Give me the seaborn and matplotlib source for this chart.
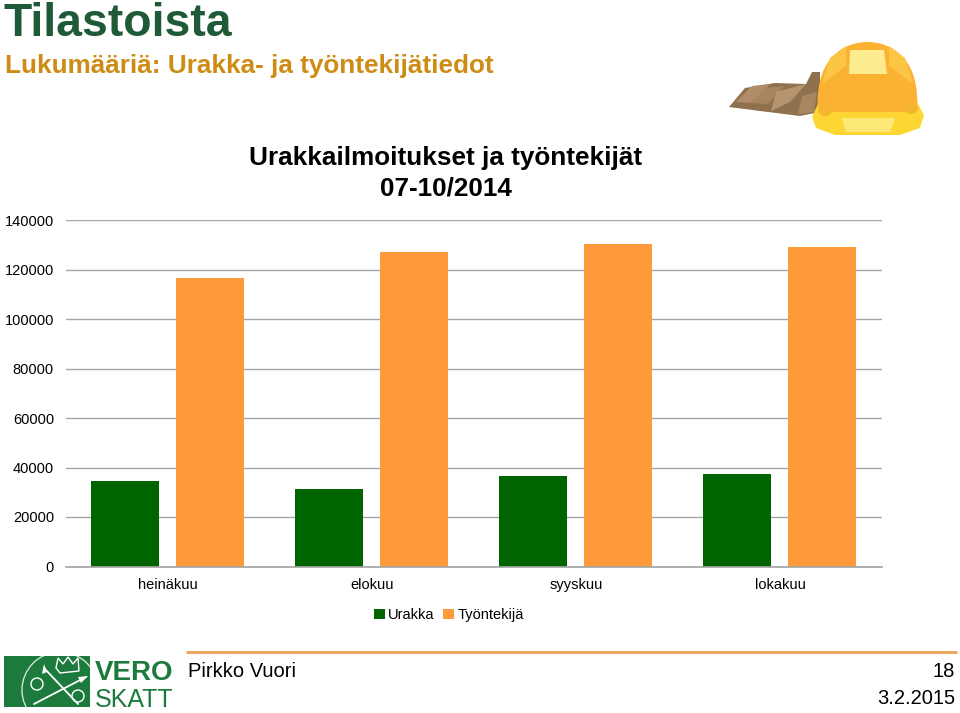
import numpy as np
import pandas as pd
import matplotlib
matplotlib.use('Agg')
import matplotlib.pyplot as plt
import seaborn as sns
from matplotlib import font_manager
from matplotlib.patches import Polygon, Rectangle, Circle, Ellipse

months = ['heinäkuu', 'elokuu', 'syyskuu', 'lokakuu']
urakka = [34500, 31200, 36600, 37400]
tyontekija = [116500, 127200, 130400, 129200]
series_names = ['Urakka', 'Työntekijä']
yticks = [0, 20000, 40000, 60000, 80000, 100000, 120000, 140000]

sns.set_theme(style='white')
plt.rcParams['font.family'] = ['Liberation Sans', 'DejaVu Sans']

df = pd.DataFrame({'kuukausi': months * 2,
                   'arvo': urakka + tyontekija,
                   'sarja': [series_names[0]] * 4 + [series_names[1]] * 4})

W, H = 960, 713
fig = plt.figure(figsize=(9.6, 7.13), dpi=100, facecolor='white')

# pixel coordinate layer for the slide decoration
bg = fig.add_axes([0, 0, 1, 1])
bg.set_xlim(0, W)
bg.set_ylim(H, 0)
bg.axis('off')

ax = fig.add_axes([65.5 / W, 1 - 566.5 / H, 816.5 / W, 346.5 / H])
sns.barplot(data=df, x='kuukausi', y='arvo', hue='sarja', ax=ax,
            palette=['#006400', '#ff9a3a'], saturation=1, width=0.833, gap=0.2,
            linewidth=0, edgecolor='none')
ax.set_ylim(0, 140000)
ax.set_xlim(-0.5, 3.5)
ax.set_yticks(yticks)
ax.set_xlabel('')
ax.set_ylabel('')
ax.set_axisbelow(True)
ax.patch.set_alpha(0)
ax.grid(axis='y', color='#a6a6a6', linewidth=1)
sns.despine(ax=ax, left=True, top=True, right=True)
ax.spines['bottom'].set_color('#a6a6a6')
ax.tick_params(axis='y', length=0, pad=8.3, labelsize=10.5, labelcolor='black')
ax.tick_params(axis='x', length=0, pad=8.2, labelsize=10.5, labelcolor='black')

handles, labels = ax.get_legend_handles_labels()
ax.legend_.remove()
fig.legend(handles, labels, loc='center', bbox_to_anchor=(449 / W, 1 - 615 / H),
           ncol=2, frameon=False, fontsize=10.5, handlelength=0.75, handleheight=0.75,
           handletextpad=0.2, columnspacing=0.6, labelcolor='black')

# headings
bg.text(3, 36, 'Tilastoista', fontsize=33.4, fontweight='bold', color='#1f5a38', va='baseline')
bg.text(5, 73, 'Lukumääriä: Urakka- ja työntekijätiedot', fontsize=18.8, fontweight='bold',
        color='#cf8c14', va='baseline')
bg.text(446, 165, 'Urakkailmoitukset ja työntekijät', fontsize=18.8, fontweight='bold',
        color='black', ha='center', va='baseline')
bg.text(446, 196, '07-10/2014', fontsize=18.8, fontweight='bold', color='black',
        ha='center', va='baseline')

# footer
bg.plot([186, 957], [652, 652], color='#eda14f', linewidth=2, solid_capstyle='butt')
bg.text(188, 677, 'Pirkko Vuori', fontsize=14.5, color='black', va='baseline')
bg.text(955, 677, '18', fontsize=14.5, color='black', ha='right', va='baseline')
bg.text(955, 704, '3.2.2015', fontsize=14.5, color='black', ha='right', va='baseline')

# vero logo
logo_green = '#1c7a3c'
logo_box = Rectangle((4, 656), 86, 51, color=logo_green, lw=0)
bg.add_patch(logo_box)
ring = Circle((60, 690), 38, facecolor='none', edgecolor='#cfe3d5', lw=1, zorder=2)
bg.add_patch(ring)
ring.set_clip_path(logo_box)
bg.add_patch(Circle((37, 684), 6, facecolor='none', edgecolor='white', lw=1, zorder=3))
bg.add_patch(Circle((78, 696), 6, facecolor='none', edgecolor='white', lw=1, zorder=3))
bg.plot([44, 78], [668, 704], color='white', lw=1.3, zorder=3)
bg.plot([86, 34], [677, 704], color='white', lw=1.3, zorder=3)
bg.add_patch(Polygon([[44, 664], [42, 674], [47, 672]], facecolor='white', edgecolor='none', zorder=3))
bg.add_patch(Polygon([[88, 676], [78, 677], [81, 683]], facecolor='white', edgecolor='none', zorder=3))
bg.add_patch(Polygon([[56, 668], [58, 658], [63, 664], [68, 657], [73, 664], [78, 658], [79, 671], [60, 673]],
                     facecolor='none', edgecolor='white', lw=1, zorder=3))
names = {f.name for f in font_manager.fontManager.ttflist}
narrow = 'Liberation Sans Narrow' if 'Liberation Sans Narrow' in names else 'Liberation Sans'
vero_size = 26 if narrow != 'Liberation Sans' else 20
bg.text(95, 680, 'VERO', fontsize=vero_size, fontweight='bold', family=narrow, color=logo_green, va='baseline')
bg.text(95, 707, 'SKATT', fontsize=vero_size - 2, family=narrow, color=logo_green, va='baseline')

# helmet and gloves
for pts, col in [
    ([[729, 107], [745, 88], [775, 83], [806, 84], [812, 72], [820, 72], [820, 112], [800, 116], [760, 111]], '#8f7150'),
    ([[736, 102], [752, 86], [770, 84], [754, 103]], '#b08d68'),
    ([[750, 103], [766, 88], [784, 86], [768, 104]], '#a9855f'),
    ([[771, 111], [776, 92], [806, 84], [790, 102]], '#b69470'),
    ([[798, 114], [802, 96], [817, 92], [814, 112]], '#a98660'),
]:
    bg.add_patch(Polygon(pts, facecolor=col, edgecolor='none', zorder=2))

t = np.linspace(np.pi, 0, 60)
dome = np.column_stack([867.5 + 50 * np.cos(t), 112 - 70 * np.sin(t) ** 0.7])
bg.add_patch(Polygon(dome, facecolor='#fbb233', edgecolor='none', zorder=3))
bg.add_patch(Polygon([[850, 50], [884, 50], [887, 74], [849, 74]], facecolor='#fdeb8f', edgecolor='none', zorder=4))
bg.add_patch(Polygon([[830, 58], [846, 46], [846, 66], [822, 84]], facecolor='#fcc544', edgecolor='none', zorder=4))
bg.add_patch(Polygon([[889, 46], [905, 58], [913, 84], [889, 66]], facecolor='#fcc544', edgecolor='none', zorder=4))
bg.add_patch(Polygon([[818, 104], [812, 117], [816, 128], [835, 135], [900, 135], [920, 128], [924, 115], [917, 102], [915, 112], [820, 112]],
                     facecolor='#fcd733', edgecolor='none', zorder=4))
bg.add_patch(Polygon([[842, 118], [895, 118], [890, 132], [846, 132]], facecolor='#fde978', edgecolor='none', zorder=5))
bg.add_patch(Ellipse((825, 110), 14, 12, facecolor='#f6b52e', edgecolor='none', zorder=5))
bg.add_patch(Ellipse((911, 108), 14, 12, facecolor='#f6b52e', edgecolor='none', zorder=5))

fig.savefig('out.png', dpi=100)
